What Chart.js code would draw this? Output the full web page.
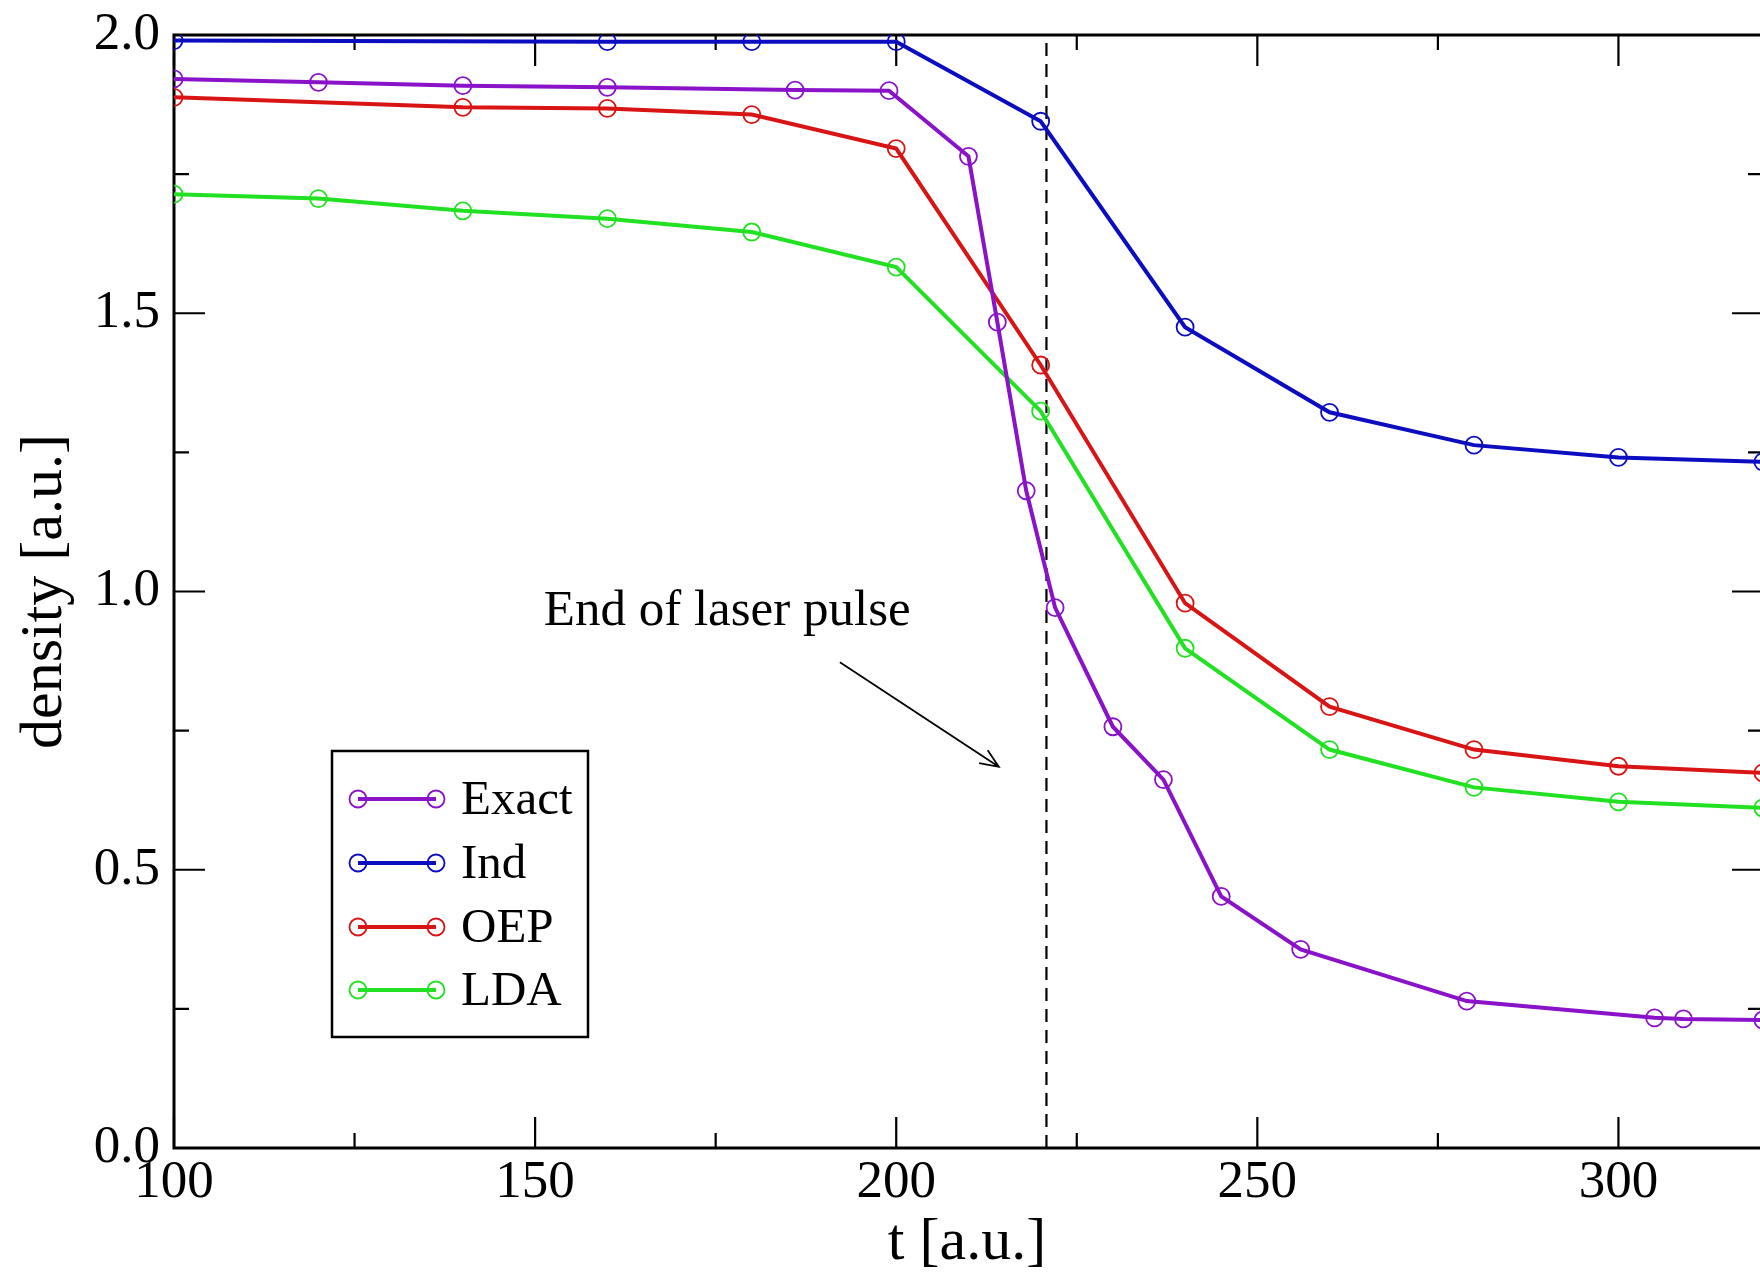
<!DOCTYPE html>
<html>
<head>
<meta charset="utf-8">
<script src="https://cdn.jsdelivr.net/npm/chart.js@4.4.1/dist/chart.umd.min.js"></script>
<style>
  html, body { margin: 0; padding: 0; background: #fff; }
  #wrap { width: 1760px; height: 1275px; }
</style>
</head>
<body>
<div id="wrap"><canvas id="myChart" width="1760" height="1275"></canvas></div>
<script>
// data: time [a.u.] and density [a.u.]
const exactT = [100, 120, 140, 160, 186, 199, 210, 214, 218, 222, 230, 237, 245, 256, 279, 305, 309, 320];
const exactN = [1.921, 1.915, 1.909, 1.906, 1.901, 1.900, 1.782, 1.484, 1.181, 0.971, 0.757, 0.662, 0.452, 0.357, 0.264, 0.234, 0.232, 0.230];

const indT = [100, 160, 180, 200, 220, 240, 260, 280, 300, 320];
const indN = [1.990, 1.988, 1.988, 1.988, 1.845, 1.475, 1.322, 1.263, 1.241, 1.233];

const oepT = [100, 140, 160, 180, 200, 220, 240, 260, 280, 300, 320];
const oepN = [1.888, 1.870, 1.868, 1.857, 1.796, 1.407, 0.979, 0.793, 0.716, 0.686, 0.674];

const ldaT = [100, 120, 140, 160, 180, 200, 220, 240, 260, 280, 300, 320];
const ldaN = [1.714, 1.706, 1.684, 1.670, 1.646, 1.583, 1.324, 0.898, 0.716, 0.648, 0.622, 0.611];

const pulseEnd = 220.8;
const xTicks = [100, 125, 150, 175, 200, 225, 250, 275, 300];
const yTicks = [0, 0.25, 0.5, 0.75, 1.0, 1.25, 1.5, 1.75, 2.0];

const serif = "'Liberation Serif', 'DejaVu Serif', serif";

function pts(t, n) {
  return t.map((v, i) => ({ x: v, y: n[i] }));
}

function series(label, t, n, color) {
  return {
    label: label,
    data: pts(t, n),
    showLine: true,
    borderColor: color,
    backgroundColor: 'rgba(0,0,0,0)',
    borderWidth: 4,
    pointRadius: 8.5,
    pointBorderWidth: 1.8,
    pointBorderColor: color,
    pointBackgroundColor: 'rgba(0,0,0,0)',
    tension: 0
  };
}

const framePlugin = {
  id: 'frame',
  beforeDatasetsDraw(chart) {
    const { ctx, chartArea: a, scales: { x, y } } = chart;
    ctx.save();
    ctx.strokeStyle = '#000';
    ctx.lineWidth = 3;
    ctx.beginPath();
    ctx.moveTo(a.right + 5, a.top);
    ctx.lineTo(a.left, a.top);
    ctx.lineTo(a.left, a.bottom);
    ctx.lineTo(a.right + 5, a.bottom);
    ctx.stroke();

    ctx.lineWidth = 2.2;
    ctx.beginPath();
    xTicks.forEach(v => {
      const px = x.getPixelForValue(v);
      const len = v % 50 === 0 ? 31 : 15;
      ctx.moveTo(px, a.bottom);
      ctx.lineTo(px, a.bottom - len);
      ctx.moveTo(px, a.top);
      ctx.lineTo(px, a.top + len);
    });
    yTicks.forEach(v => {
      const py = y.getPixelForValue(v);
      const len = Math.abs(v * 2 - Math.round(v * 2)) < 1e-6 ? 31 : 15;
      ctx.moveTo(a.left, py);
      ctx.lineTo(a.left + len, py);
      ctx.moveTo(a.right + 3, py);
      ctx.lineTo(a.right + 3 - len, py);
    });
    ctx.stroke();
    ctx.restore();
  },
  afterDatasetsDraw(chart) {
    const { ctx, scales: { x, y } } = chart;
    ctx.save();

    // annotation
    ctx.fillStyle = '#000';
    ctx.font = '51px ' + serif;
    ctx.textAlign = 'center';
    ctx.textBaseline = 'middle';
    ctx.fillText('End of laser pulse', x.getPixelForValue(176.6), y.getPixelForValue(0.963));

    const x1 = x.getPixelForValue(192.2), y1 = y.getPixelForValue(0.873);
    const x2 = x.getPixelForValue(214.2), y2 = y.getPixelForValue(0.685);
    const ang = Math.atan2(y2 - y1, x2 - x1);
    ctx.strokeStyle = '#000';
    ctx.lineWidth = 1.8;
    ctx.beginPath();
    ctx.moveTo(x1, y1);
    ctx.lineTo(x2, y2);
    ctx.moveTo(x2 - 20 * Math.cos(ang - 0.4), y2 - 20 * Math.sin(ang - 0.4));
    ctx.lineTo(x2, y2);
    ctx.lineTo(x2 - 20 * Math.cos(ang + 0.4), y2 - 20 * Math.sin(ang + 0.4));
    ctx.stroke();

    // legend box
    const bx = 332, by = 751, bw = 256, bh = 286;
    ctx.fillStyle = '#fff';
    ctx.fillRect(bx, by, bw, bh);
    ctx.lineWidth = 2.5;
    ctx.strokeRect(bx, by, bw, bh);
    const rows = [799, 863, 927, 990];
    chart.data.datasets.filter(d => d.label !== 'pulse').forEach((d, i) => {
      const ry = rows[i];
      ctx.strokeStyle = d.borderColor;
      ctx.lineWidth = 4;
      ctx.beginPath();
      ctx.moveTo(358, ry);
      ctx.lineTo(436, ry);
      ctx.stroke();
      ctx.lineWidth = 1.8;
      [358, 436].forEach(cx => {
        ctx.beginPath();
        ctx.arc(cx, ry, 8.5, 0, Math.PI * 2);
        ctx.stroke();
      });
      ctx.fillStyle = '#000';
      ctx.font = '49px ' + serif;
      ctx.textAlign = 'left';
      ctx.textBaseline = 'middle';
      ctx.fillText(d.label, 461, ry + 2);
    });
    ctx.restore();
  }
};

const ctx = document.getElementById('myChart').getContext('2d');
const myChart = new Chart(ctx, {
  type: 'scatter',
  data: {
    datasets: [
      series('Exact', exactT, exactN, '#8a12c8'),
      series('Ind', indT, indN, '#0c0cc0'),
      series('OEP', oepT, oepN, '#d81414'),
      series('LDA', ldaT, ldaN, '#22e022'),
      {
        label: 'pulse',
        data: [{ x: pulseEnd, y: 0 }, { x: pulseEnd, y: 2 }],
        showLine: true,
        borderColor: '#000',
        borderWidth: 2.2,
        borderDash: [13, 8],
        pointRadius: 0
      }
    ]
  },
  options: {
    responsive: false,
    animation: false,
    devicePixelRatio: 1,
    // the plot runs off the right edge of the picture, so no auto padding
    layout: { autoPadding: false, padding: { top: 35, right: 0, left: 0, bottom: 0 } },
    plugins: {
      legend: { display: false },
      tooltip: { enabled: false }
    },
    scales: {
      x: {
        type: 'linear',
        min: 100,
        max: 319.6,
        afterFit: s => { s.height = 127; s.paddingLeft = 0; s.paddingRight = 0; },
        afterBuildTicks: s => { s.ticks = xTicks.map(v => ({ value: v })); },
        grid: { display: false, drawTicks: false },
        border: { display: false },
        ticks: {
          padding: 9,
          color: '#000',
          font: { family: serif, size: 53, lineHeight: 1 },
          maxRotation: 0,
          callback: v => (v % 50 === 0 ? String(v) : '')
        },
        title: {
          display: true,
          text: 't [a.u.]',
          color: '#000',
          font: { family: serif, size: 60, lineHeight: 1 },
          padding: { top: 0, bottom: 2 }
        }
      },
      y: {
        type: 'linear',
        min: 0,
        max: 2,
        afterFit: s => { s.width = 174; s.paddingTop = 0; s.paddingBottom = 0; },
        afterBuildTicks: s => { s.ticks = yTicks.map(v => ({ value: v })); },
        grid: { display: false, drawTicks: false },
        border: { display: false },
        ticks: {
          padding: 14,
          color: '#000',
          font: { family: serif, size: 53, lineHeight: 1 },
          callback: v => (Math.abs(v * 2 - Math.round(v * 2)) < 1e-6 ? v.toFixed(1) : '')
        },
        title: {
          display: true,
          text: 'density [a.u.]',
          color: '#000',
          font: { family: serif, size: 60, lineHeight: 1 },
          padding: { top: 15, bottom: 0 }
        }
      }
    }
  },
  plugins: [framePlugin]
});
</script>
</body>
</html>
